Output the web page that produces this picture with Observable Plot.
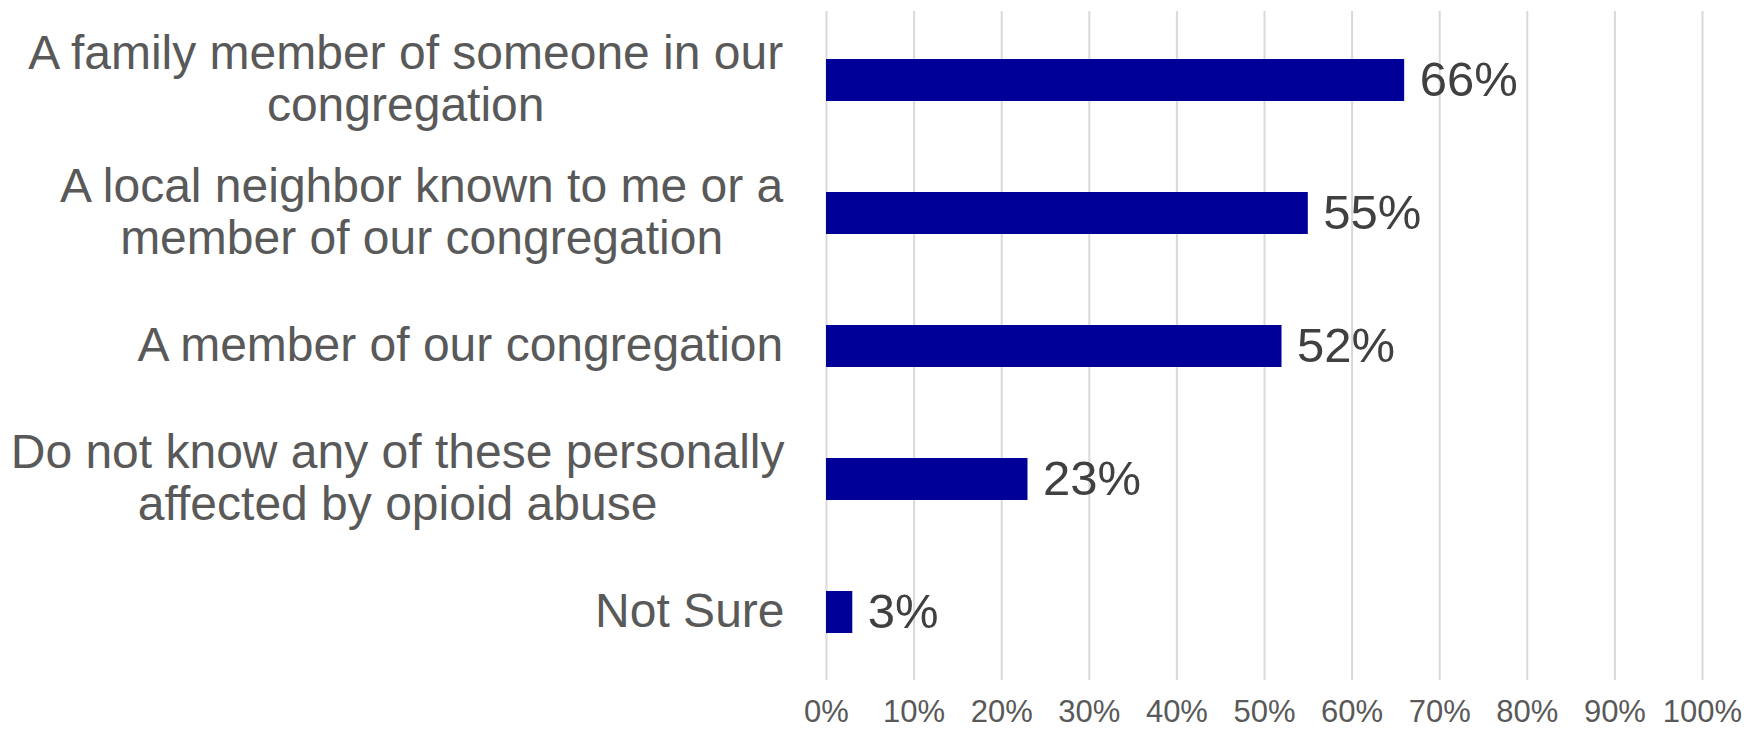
<!DOCTYPE html>
<html>
<head>
<meta charset="utf-8">
<script src="https://cdn.jsdelivr.net/npm/d3@7"></script>
<script src="https://cdn.jsdelivr.net/npm/@observablehq/plot@0.6"></script>
<style>
  html, body { margin: 0; padding: 0; background: #ffffff; }
  #chart { width: 1748px; height: 729px; }
</style>
</head>
<body>
<div id="chart"></div>
<script>
const categories = [
  "A family member of someone in our\ncongregation",
  "A local neighbor known to me or a\nmember of our congregation",
  "A member of our congregation",
  "Do not know any of these personally\naffected by opioid abuse",
  "Not Sure"
];
const values = [0.66, 0.55, 0.52, 0.23, 0.03];
const xTicks = [0, 0.1, 0.2, 0.3, 0.4, 0.5, 0.6, 0.7, 0.8, 0.9, 1.0];

const data = categories.map((c, i) => ({category: c, value: values[i]}));
const pct = d3.format(".0%");

const FONT = "'Liberation Sans', Arial, sans-serif";
const catSize = 48;
const ctx = document.createElement("canvas").getContext("2d");
ctx.font = `${catSize}px ${FONT}`;
const blockWidth = c => d3.max(c.split("\n"), s => ctx.measureText(s).width);

const labelGap = 42;

const chart = Plot.plot({
  width: 1748,
  height: 729,
  marginLeft: 826,
  marginRight: 46,
  marginTop: 11,
  marginBottom: 49,
  style: {fontFamily: FONT, background: "#ffffff"},
  x: {domain: [0, 1]},
  y: {domain: categories, paddingInner: 0.686, paddingOuter: 0.343, axis: null},
  marks: [
    Plot.gridX(xTicks, {stroke: "#d9d9d9", strokeOpacity: 1, strokeWidth: 2}),
    Plot.axisX(xTicks, {tickSize: 0, tickPadding: 19, tickFormat: pct, fontSize: 31, fill: "#595959", label: null}),
    Plot.barX(data, {x: "value", y: "category", fill: "#000099"}),
    Plot.text(data, {x: "value", y: "category", text: d => pct(d.value), textAnchor: "start", dx: 15, fontSize: 49, fill: "#404040"}),
    ...data.map(d => Plot.text([d], {
      x: 0, y: "category", text: "category",
      textAnchor: "middle",
      dx: -labelGap - blockWidth(d.category) / 2,
      dy: -2,
      fontSize: catSize, lineHeight: 1.08, fill: "#595959"
    }))
  ]
});
document.getElementById("chart").appendChild(chart);
</script>
</body>
</html>
